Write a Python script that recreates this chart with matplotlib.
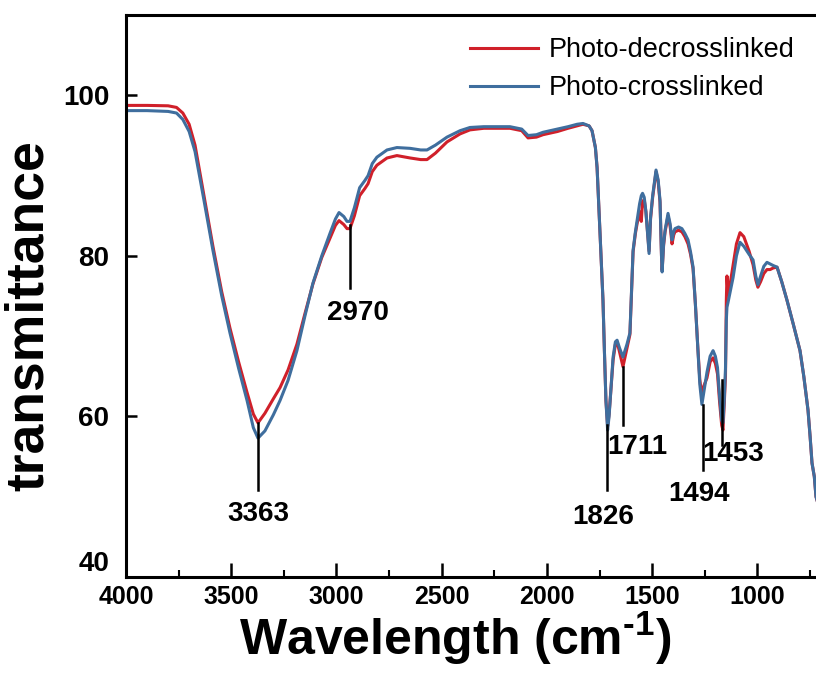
import numpy as np
import matplotlib
matplotlib.use("Agg")
import matplotlib.pyplot as plt
from matplotlib.ticker import MultipleLocator

plt.rcParams['font.family'] = 'Liberation Sans'
plt.rcParams['mathtext.fontset'] = 'custom'
plt.rcParams['mathtext.rm'] = 'Liberation Sans:bold'
plt.rcParams['mathtext.bf'] = 'Liberation Sans:bold'
plt.rcParams['mathtext.default'] = 'bf'

# FTIR spectra (wavenumber in cm-1, transmittance)
wavenumber = [4000, 3900, 3800, 3760, 3730, 3700, 3672, 3630, 3587, 3545,
              3506, 3465, 3425, 3395, 3373, 3340, 3300, 3268, 3230, 3188,
              3150, 3112, 3070, 3031, 3005, 2988, 2965, 2950, 2936, 2915,
              2890, 2865, 2850, 2830, 2808, 2760, 2713, 2650, 2600, 2570,
              2530, 2475, 2413, 2366, 2300, 2176, 2120, 2090, 2050, 2019,
              1950, 1900, 1857, 1829, 1800, 1786, 1770, 1762, 1755, 1748,
              1741, 1734, 1727, 1720, 1712, 1705, 1700, 1686, 1675, 1667,
              1655, 1639, 1620, 1606, 1598, 1591, 1580, 1572, 1560, 1552,
              1546, 1538, 1530, 1515, 1508, 1498, 1482, 1472, 1463, 1456,
              1453, 1446, 1439, 1425, 1415, 1406, 1398, 1392, 1375, 1359,
              1345, 1330, 1318, 1306, 1295, 1283, 1274, 1264, 1255, 1240,
              1225, 1211, 1200, 1190, 1180, 1170, 1164, 1158, 1152, 1148,
              1145, 1140, 1130, 1116, 1100, 1083, 1065, 1040, 1021, 1008,
              998, 985, 970, 955, 940, 925, 907, 885, 860, 830,
              798, 780, 760, 750, 741, 730, 722, 700]

crosslinked = [98.1, 98.1, 98.0, 97.8, 97.0, 95.5, 93.0, 87.0, 80.7, 75.0,
               70.4, 66.0, 62.0, 58.6, 57.3, 58.2, 60.2, 62.0, 64.5, 68.2,
               72.5, 76.6, 80.0, 82.8, 84.6, 85.4, 84.9, 84.3, 84.3, 86.0,
               88.5, 89.4, 90.0, 91.5, 92.3, 93.2, 93.5, 93.4, 93.2, 93.2,
               93.8, 94.8, 95.6, 96.0, 96.1, 96.1, 95.8, 95.0, 95.1, 95.4,
               95.8, 96.1, 96.4, 96.5, 96.2, 95.6, 93.5, 91.0, 87.0, 82.8,
               78.5, 74.5, 68.0, 62.0, 58.3, 60.0, 62.0, 67.4, 69.3, 69.5,
               68.5, 67.4, 69.0, 70.4, 76.0, 80.7, 83.0, 84.4, 86.5, 87.5,
               87.8, 87.3, 85.5, 80.3, 84.8, 87.5, 90.7, 89.5, 86.9, 80.0,
               78.0, 81.5, 83.2, 85.3, 84.0, 82.0, 83.0, 83.4, 83.6, 83.4,
               82.8, 82.0, 80.5, 78.6, 74.0, 68.2, 64.0, 61.5, 63.0, 65.5,
               67.5, 68.2, 67.5, 66.1, 62.5, 59.5, 59.2, 62.0, 66.0, 72.0,
               73.6, 74.2, 75.5, 77.3, 80.0, 81.7, 81.2, 80.2, 79.5, 77.5,
               76.4, 77.5, 78.7, 79.2, 79.0, 78.8, 78.6, 76.8, 74.5, 71.5,
               68.2, 65.0, 60.8, 57.5, 54.2, 52.5, 50.0, 48.0]

decrosslinked = [98.75, 98.75, 98.7, 98.5, 97.8, 96.4, 93.8, 87.6, 81.2, 75.5,
                 71.0, 66.8, 63.0, 60.3, 59.2, 60.4, 62.2, 63.6, 65.8, 69.0,
                 72.8, 76.5, 79.8, 82.2, 83.8, 84.4, 83.9, 83.4, 83.4, 85.0,
                 87.5, 88.4, 89.0, 90.5, 91.3, 92.2, 92.5, 92.2, 92.0, 92.0,
                 92.8, 94.2, 95.2, 95.7, 95.9, 95.9, 95.6, 94.7, 94.8, 95.1,
                 95.5, 95.9, 96.2, 96.4, 96.2, 95.6, 93.5, 91.0, 87.0, 82.8,
                 78.5, 74.5, 68.0, 62.0, 58.8, 60.3, 62.0, 67.0, 69.0, 69.3,
                 68.0, 66.2, 68.5, 70.2, 75.8, 80.5, 82.8, 84.0, 85.5, 84.3,
                 86.8, 87.0, 85.5, 80.6, 84.6, 87.3, 90.5, 89.3, 86.7, 80.0,
                 78.2, 81.3, 83.0, 85.0, 83.7, 81.5, 82.6, 83.0, 83.2, 83.0,
                 82.4, 81.5, 80.2, 78.4, 74.0, 68.4, 64.6, 62.5, 63.8, 64.8,
                 66.8, 67.3, 66.6, 65.3, 61.8, 58.9, 58.3, 61.5, 65.0, 74.5,
                 77.5, 75.2, 76.5, 78.8, 81.5, 82.9, 82.4, 80.6, 78.9, 77.0,
                 76.1, 76.8, 77.8, 78.3, 78.3, 78.5, 78.6, 76.8, 74.5, 71.5,
                 68.2, 65.0, 60.8, 57.5, 54.2, 52.5, 50.0, 48.0]

# peak annotations: label, line x, line bottom/top, text position
peak_labels = ["3363", "2970", "1826", "1711", "1494", "1453"]
peak_x = [3373, 2936, 1715, 1639, 1259, 1169]
line_top = [59.2, 83.9, 58.9, 66.1, 61.4, 64.5]
line_bottom = [50.8, 76.0, 50.8, 58.9, 53.3, 56.4]
text_x = [3373, 2898, 1734, 1572, 1278, 1116]
text_y = [47.9, 72.9, 47.5, 56.2, 50.4, 55.3]

red = '#d0202a'
blue = '#3f6e9e'

fig = plt.figure(figsize=(8.16, 6.77), dpi=100)
ax = fig.add_axes([0.1544, 0.1477, 0.8456, 0.830])

ax.plot(wavenumber, decrosslinked, color=red, lw=2.2, label='Photo-decrosslinked')
ax.plot(wavenumber, crosslinked, color=blue, lw=2.2, label='Photo-crosslinked')

for lab, px, yt, yb, tx, ty in zip(peak_labels, peak_x, line_top, line_bottom, text_x, text_y):
    ax.plot([px, px], [yb, yt], color='black', lw=1.8)
    ax.text(tx, ty, lab, ha='center', va='center', fontsize=20, fontweight='bold')

ax.set_xlim(4000, 722)
ax.set_ylim(40, 110)
ax.xaxis.set_major_locator(MultipleLocator(500))
ax.xaxis.set_minor_locator(MultipleLocator(250))
ax.set_yticks([40, 60, 80, 100])

ax.tick_params(axis='x', which='major', direction='in', length=10, width=1.8,
               labelsize=18, pad=6)
ax.tick_params(axis='x', which='minor', direction='in', length=5, width=1.5)
ax.tick_params(axis='y', direction='in', length=8, width=1.8, labelsize=20, pad=12)
for lab in ax.get_xticklabels() + ax.get_yticklabels():
    lab.set_fontweight('bold')
ax.get_yticklabels()[0].set_va('bottom')

for s in ['left', 'bottom', 'top']:
    ax.spines[s].set_linewidth(2.2)
ax.spines['right'].set_visible(False)

ax.set_xlabel(r'Wavelength (cm$^{\text{-}1}$)', fontsize=36, fontweight='bold')
ax.xaxis.set_label_coords(0.477, -0.058)
ax.set_ylabel('transmittance', fontsize=38.5, fontweight='bold')
ax.yaxis.set_label_coords(-0.105, 0.466)

fig.legend(loc='upper left', bbox_to_anchor=(470 / 816, 1 - 37 / 677),
           frameon=False, fontsize=19.5, handlelength=2.5, handletextpad=0.4,
           labelspacing=0.45, borderpad=0, borderaxespad=0)

fig.savefig('out.png', dpi=100)
